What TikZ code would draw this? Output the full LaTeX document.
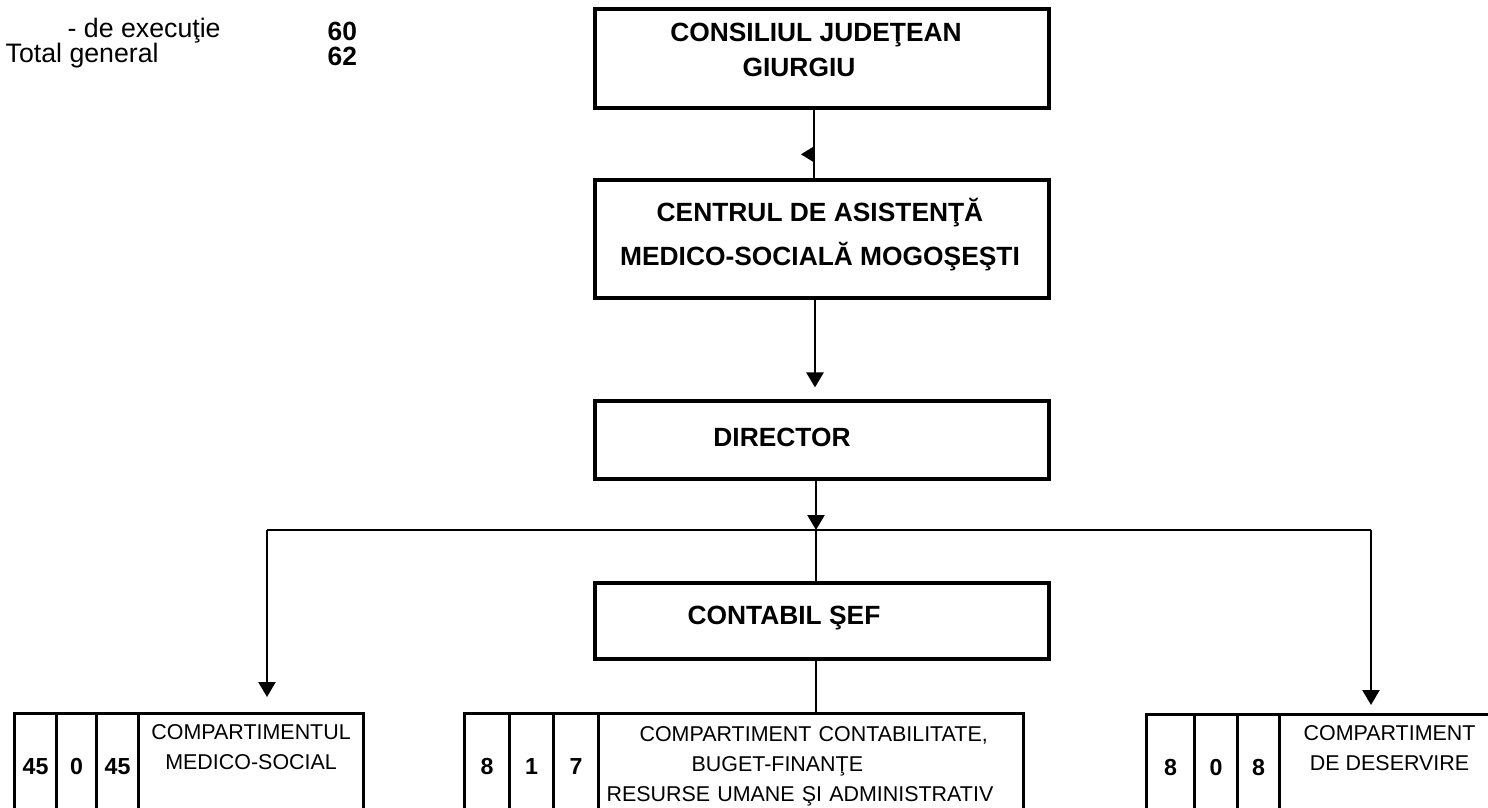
\documentclass[tikz,border=0pt]{standalone}
\usepackage{fontspec}
\setmainfont{Liberation Sans}
\usetikzlibrary{arrows.meta}

\begin{document}
\begin{tikzpicture}[
titlebox/.style={rectangle, draw, line width=0.9pt, minimum width=4.54cm, inner sep=0pt},
titletext/.style={align=center, inner sep=0pt, font=\bfseries\fontsize{7.5}{12.5}\selectfont},
cellbox/.style={rectangle, draw, line width=0.9pt, anchor=north west, minimum height=1.06cm, inner sep=0pt, font=\bfseries\fontsize{6.6}{8}\selectfont},
namebox/.style={rectangle, draw, line width=0.9pt, anchor=north west, minimum height=1.06cm, inner xsep=0.08cm, inner ysep=0pt, font=\fontsize{6.1}{8.5}\selectfont},
plaintext/.style={anchor=west, inner sep=0pt, font=\fontsize{7.6}{9}\selectfont},
numtext/.style={anchor=west, inner sep=0pt, font=\bfseries\fontsize{7.5}{9}\selectfont},
link/.style={line width=0.7pt},
arrowlink/.style={line width=0.7pt, -{Triangle[length=1.5mm,width=1.7mm]}}
]
\useasboundingbox (0,0) rectangle (14.88,-8.08);
\clip (0,0) rectangle (14.88,-8.08);

%Staff numbers
\node[plaintext] at (0.67,-0.31) (exec) {- de execuţie};
\node[plaintext] at (0.05,-0.56) (total) {Total general};
\node[numtext] at (3.27,-0.31) (execnr) {60};
\node[numtext] at (3.27,-0.56) (totalnr) {62};

%Nodes
\node[titlebox, minimum height=0.99cm] at (8.22,-0.585) (consiliu) {};
\node[titletext, font=\bfseries\fontsize{7.5}{10}\selectfont] at (8.16,-0.495) (consiliu-t) {CONSILIUL JUDEŢEAN\\\hspace*{-0.34cm}GIURGIU};
\node[titlebox, minimum height=1.18cm] at (8.22,-2.39) (centru) {};
\node[titletext] at (8.20,-2.35) (centru-t) {CENTRUL DE ASISTENŢĂ\\MEDICO-SOCIALĂ MOGOŞEŞTI};
\node[titlebox, minimum height=0.78cm] at (8.22,-4.40) (director) {};
\node[titletext] at (7.82,-4.37) (director-t) {DIRECTOR};
\node[titlebox, minimum height=0.76cm] at (8.22,-6.21) (contabil) {};
\node[titletext] at (7.84,-6.18) (contabil-t) {CONTABIL ŞEF};

\coordinate (bus) at (8.16,-5.30);
\coordinate (busleft) at (2.67,-5.30);
\coordinate (busright) at (13.71,-5.30);

%Compartments
\node[cellbox, minimum width=0.42cm] at (0.13,-7.12) (med-a) {45};
\node[cellbox, minimum width=0.40cm] at (0.55,-7.12) (med-b) {0};
\node[cellbox, minimum width=0.42cm] at (0.95,-7.12) (med-c) {45};
\node[namebox, minimum width=2.25cm, align=center] at (1.37,-7.12) (med) {COMPARTIMENTUL\\MEDICO-SOCIAL\\\strut};

\node[cellbox, minimum width=0.45cm] at (4.63,-7.12) (fin-a) {8};
\node[cellbox, minimum width=0.44cm] at (5.08,-7.12) (fin-b) {1};
\node[cellbox, minimum width=0.45cm] at (5.52,-7.12) (fin-c) {7};
\node[namebox, minimum width=4.25cm, text width=4.09cm, align=left] at (5.97,-7.12) (fin) {\hspace*{0.33cm}COMPARTIMENT CONTABILITATE,\\\hspace*{0.85cm}BUGET-FINANŢE\\RESURSE UMANE ŞI ADMINISTRATIV};

\node[cellbox, minimum width=0.48cm] at (11.45,-7.13) (des-a) {8};
\node[cellbox, minimum width=0.43cm] at (11.93,-7.13) (des-b) {0};
\node[cellbox, minimum width=0.42cm] at (12.36,-7.13) (des-c) {8};
\node[namebox, minimum width=2.20cm, align=center] at (12.78,-7.13) (des) {COMPARTIMENT\\DE DESERVIRE\\\strut};

%Lines
\draw[link] ([xshift=-0.08cm]consiliu.south) -- coordinate[pos=0.65] (mark) ([xshift=-0.08cm]centru.north);
\fill (mark) ++(0,0.08) -- ++(-0.13,-0.08) -- ++(0.13,-0.08) -- cycle;
\draw[arrowlink, shorten >=0.12cm] ([xshift=-0.07cm]centru.south) -- ([xshift=-0.07cm]director.north);
\draw[arrowlink] ([xshift=-0.06cm]director.south) -- (bus);
\draw[link] (busleft) -- (busright);
\draw[link] (bus) -- (bus |- contabil.north);
\draw[arrowlink, shorten >=0.15cm] (busleft) -- (busleft |- med.north);
\draw[arrowlink, shorten >=0.08cm] (busright) -- (busright |- des.north);
\draw[link] (bus |- contabil.south) -- (bus |- fin.north);

\end{tikzpicture}
\end{document}
